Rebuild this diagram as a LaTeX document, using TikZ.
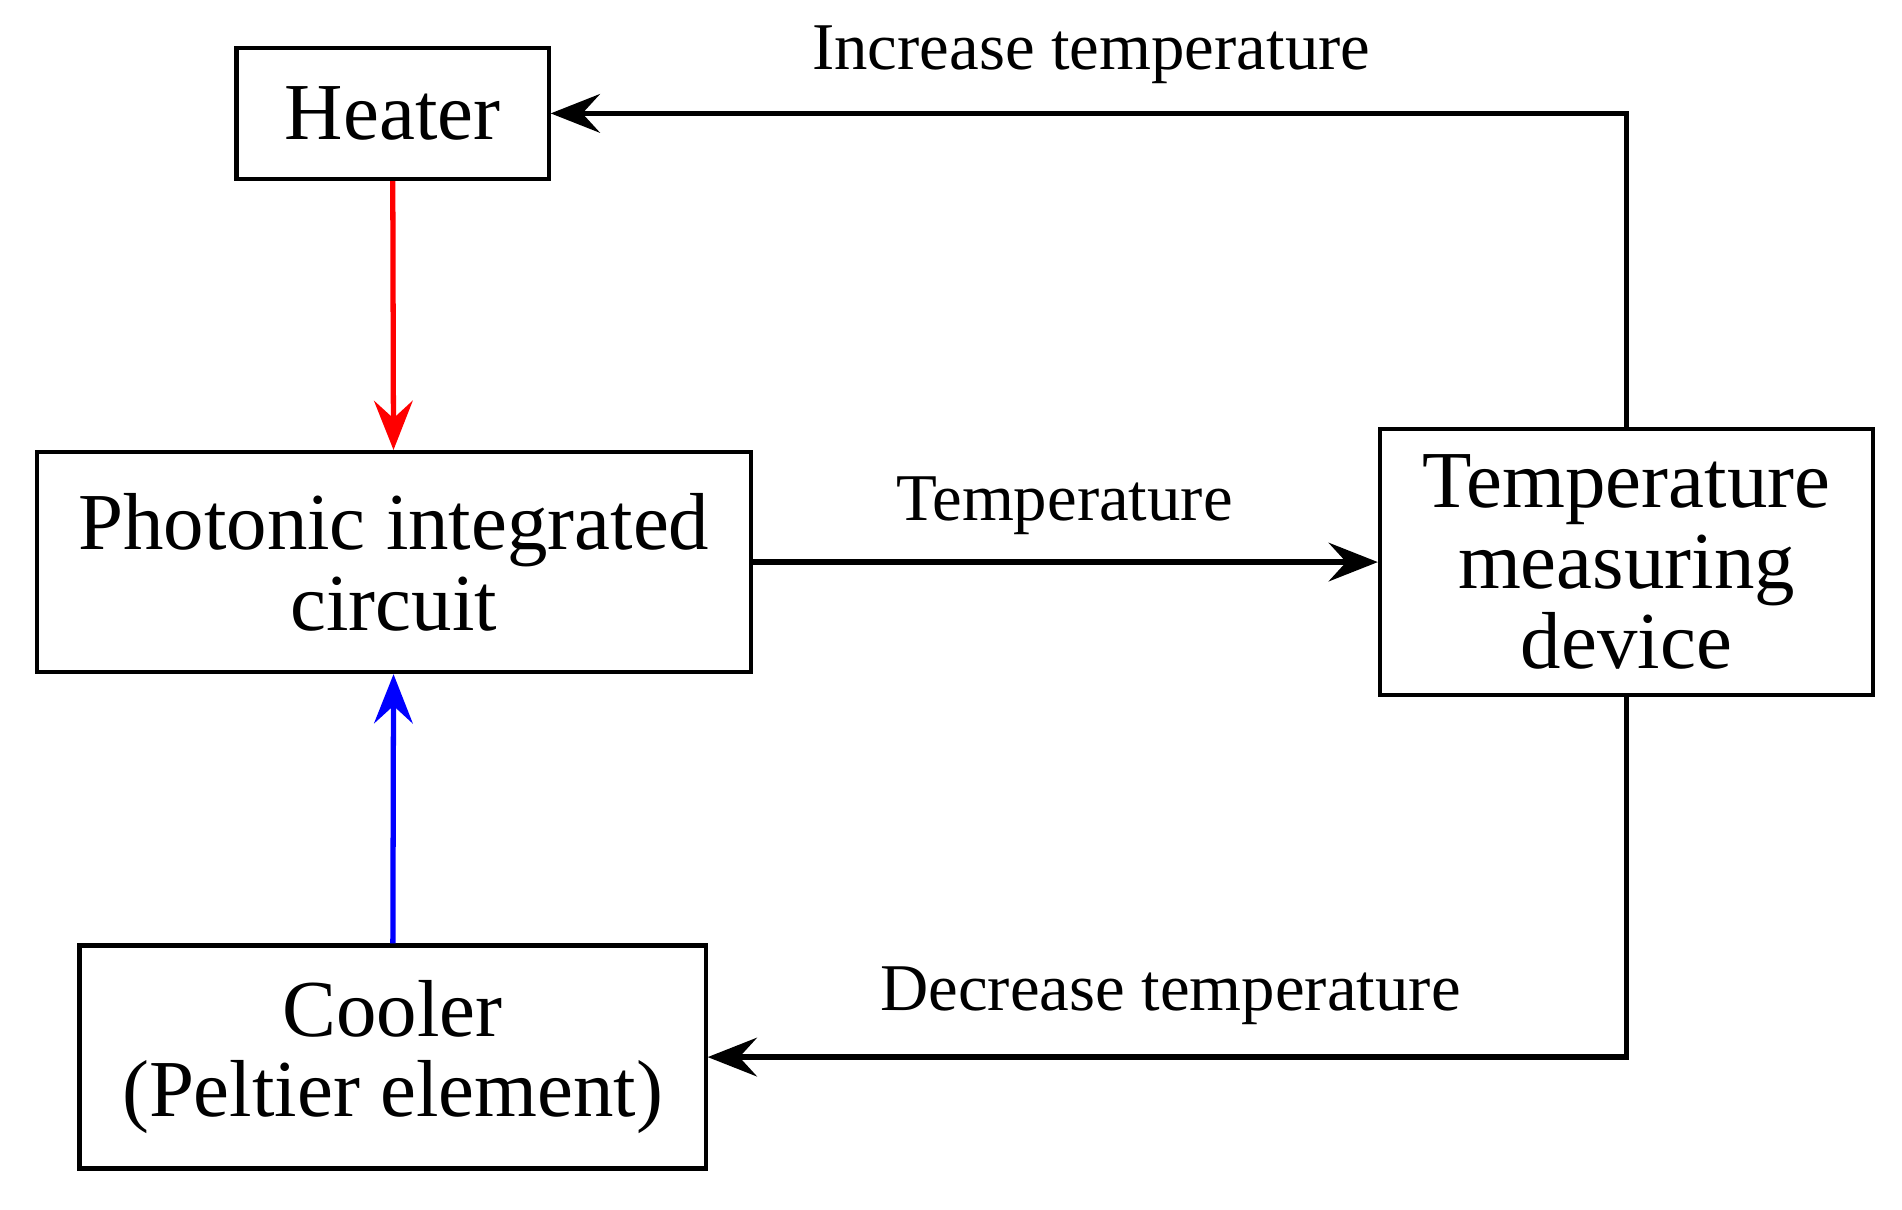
\documentclass[tikz,border=0pt]{standalone}
\usepackage{fontspec}
\setmainfont{Liberation Serif}
\usetikzlibrary{arrows.meta, positioning}

\begin{document}
\begin{tikzpicture}[x=0.01219cm, y=-0.01219cm,
	block/.style={draw, line width=1.2pt, align=center, font=\fontsize{23}{23}\selectfont, inner sep=0pt},
	link/.style={line width=1.5pt, -{Stealth[length=14pt, width=11pt, inset=5pt]}},
	lbl/.style={font=\fontsize{19}{19}\selectfont}]
	
	% frame
	\useasboundingbox (0,0) rectangle (1560,992);
	
	% blocks
	\node[block, minimum width=3.12cm, minimum height=1.31cm] (heater) at (322,93) {Heater};
	\node[block, minimum width=7.14cm, minimum height=2.2cm] (pic) at (323,461) {Photonic integrated\\circuit};
	\node[block, minimum width=4.93cm, minimum height=2.66cm] (tmd) at (1334,461) {Temperature\\measuring\\device};
	\node[block, minimum width=6.26cm, minimum height=2.23cm] (cooler) at (322,867) {Cooler\\(Peltier element)};
	
	% connectors
	\draw[link, red] (heater) -- (pic);
	\draw[link, blue] (cooler) -- (pic);
	\draw[link] (pic) -- (tmd);
	\draw[link] (tmd.north) |- (heater.east);
	\draw[link] (tmd.south) |- (cooler.east);
	
	% labels
	\node[lbl] at (895,45) {Increase temperature};
	\node[lbl] at (873,415) {Temperature};
	\node[lbl] at (960,817) {Decrease temperature};
	
\end{tikzpicture}
\end{document}
